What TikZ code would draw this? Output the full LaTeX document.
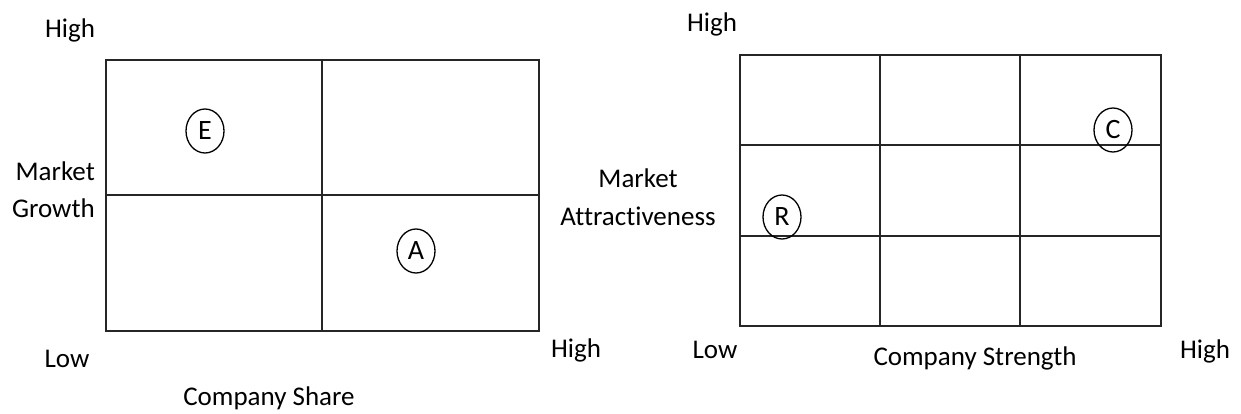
\documentclass[tikz,border=0pt]{standalone}
\usepackage{fontspec}
\setmainfont[Ligatures={NoCommon}]{Carlito}
\usetikzlibrary{shapes.geometric}
\tikzset{
  grid/.style={line width=1.6pt, draw=black!85},
  lbl/.style={font=\fontsize{27}{37}\selectfont, inner sep=0pt, anchor=base, text=black},
  pt/.style={ellipse, draw=black, line width=1.3pt, minimum width=38pt, minimum height=44pt, inner sep=0pt, font=\fontsize{28}{30}\selectfont}
}
\begin{document}
\begin{tikzpicture}[x=1pt,y=-1pt]
\useasboundingbox (0,0) rectangle (1241,414);
% left matrix
\draw[grid] (106,60) rectangle (539,331);
\draw[grid] (322,60) -- (322,331);
\draw[grid] (106,195) -- (539,195);
% right matrix
\draw[grid] (740,55) rectangle (1161,326);
\draw[grid] (880,55) -- (880,326);
\draw[grid] (1020,55) -- (1020,326);
\draw[grid] (740,145) -- (1161,145);
\draw[grid] (740,236) -- (1161,236);
% points
\node[pt, fill=white] (E) at (205,131) {E};
\node[pt, fill=white] (A) at (416,251) {A};
\node[pt] (C) at (1113,130) {C};
\node[pt] (R) at (782,217) {R};
% left labels
\node[lbl] (lhigh) at (70,38) {High};
\node[lbl, align=right, anchor=base east] (lmg) at (95,217) {Market\\Growth};
\node[lbl] (llow) at (67,367) {Low};
\node[lbl] (lcs) at (269,405) {Company Share};
\node[lbl] (lhigh2) at (576,357) {High};
% right labels
\node[lbl] (rhigh) at (712,32) {High};
\node[lbl, align=center] (rma) at (638,225) {Market\\Attractiveness};
\node[lbl] (rlow) at (715,358) {Low};
\node[lbl] (rcs) at (975,365) {Company Strength};
\node[lbl] (rhigh2) at (1205,358) {High};
\end{tikzpicture}
\end{document}
